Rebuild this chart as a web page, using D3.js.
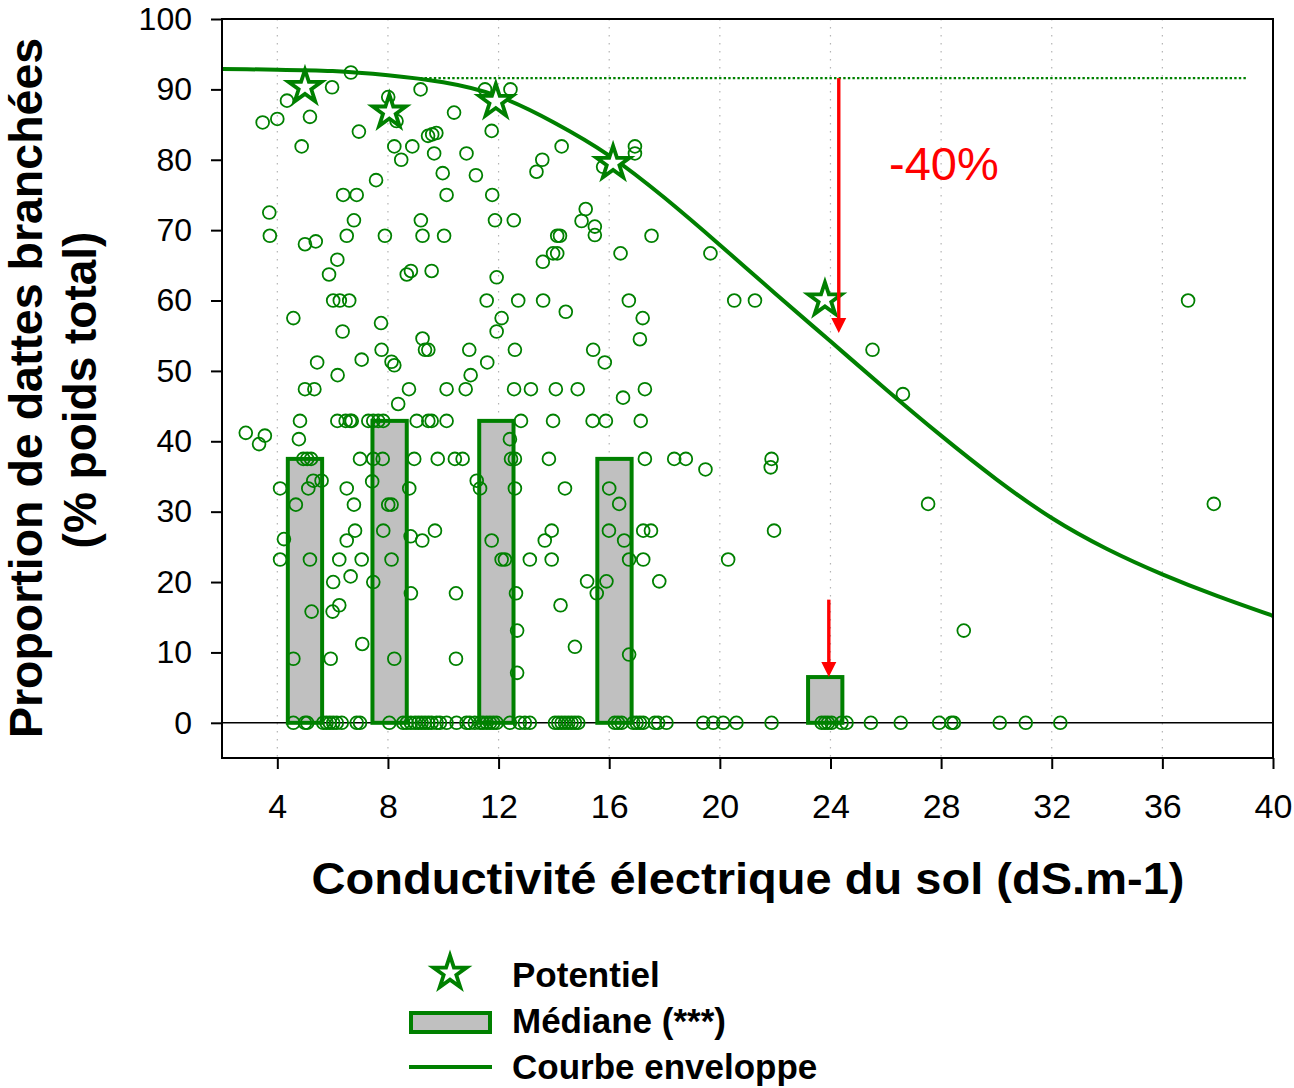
<!DOCTYPE html>
<html>
<head>
<meta charset="utf-8">
<script src="https://cdn.jsdelivr.net/npm/d3@7"></script>
<style>
  body { margin: 0; background: #fff; }
  text { font-family: "Liberation Sans", Arial, sans-serif; }
</style>
</head>
<body>
<svg id="chart" width="1294" height="1088"></svg>
<script>
// ---- Data -------------------------------------------------------------
const xTicks = [4, 8, 12, 16, 20, 24, 28, 32, 36, 40];
const yTicks = [0, 10, 20, 30, 40, 50, 60, 70, 80, 90, 100];

// Individual samples with a non-zero proportion (EC dS/m, % of total weight)
const obsX = [6.66,5.98,4.35,5.18,3.47,4.0,4.88,6.95,8.01,8.31,9.18,8.23,8.48,8.88,10.39,9.45,9.6,9.75,9.67,10.84,
  9.98,11.18,10.12,11.75,11.51,12.43,14.28,13.58,13.37,15.78,7.57,6.38,6.87,3.71,3.73,6.77,6.51,7.89,9.19,9.25,
  10.03,11.77,11.87,12.55,15.15,15.0,15.48,15.48,14.12,14.22,5.0,5.39,6.17,13.97,14.12,13.60,5.87,8.68,8.83,9.58,
  11.93,6.02,6.26,6.60,11.57,12.71,13.61,14.43,4.58,7.75,12.11,6.36,11.93,9.25,9.34,9.46,7.77,10.94,12.59,15.42,
  15.84,5.44,7.05,8.13,8.23,11.59,6.18,10.99,5.0,5.34,8.76,10.12,10.81,12.56,13.17,14.07,14.86,17.29,16.50,8.37,
  4.82,6.17,6.47,6.63,6.69,7.29,7.47,7.65,7.83,9.04,9.46,9.58,10.12,12.81,13.97,15.40,15.88,17.14,2.86,3.34,
  3.55,4.78,12.41,4.94,5.08,5.22,6.99,7.47,7.81,8.95,9.80,10.42,10.70,12.45,12.59,13.82,17.29,18.35,18.77,21.87,
  21.84,19.48,4.10,5.30,5.60,5.12,6.51,7.43,8.77,11.21,11.33,12.59,14.40,16.0,16.36,4.67,6.77,8.01,8.13,27.53,
  37.86,4.24,6.51,6.81,7.83,8.82,9.24,9.70,11.75,13.67,13.92,15.99,17.23,17.51,16.54,21.96,4.10,5.18,6.24,7.05,
  8.13,12.11,12.23,13.13,13.92,16.72,17.23,20.30,6.02,6.65,7.47,15.20,15.90,17.81,8.83,10.46,12.63,15.55,5.24,6.0,
  6.24,14.24,12.67,28.82,7.07,14.76,16.72,4.58,5.93,8.23,10.46,12.67,16.71,20.52,21.27,17.21,17.11,25.52,26.62,16.41,
  19.66,17.53,16.93,16.93,36.93];
const obsY = [92.4,90.3,88.4,86.1,85.3,85.8,81.9,84.0,88.9,85.5,90.0,81.9,80.0,81.9,86.7,83.4,83.6,83.8,80.9,80.9,
  78.1,77.8,75.0,84.1,90.0,90.0,81.9,80.0,78.3,79.0,77.1,75.0,75.0,72.5,69.2,71.4,69.2,69.2,71.4,69.2,
  69.2,75.0,71.4,71.4,73.0,71.3,70.5,69.3,69.2,69.2,68.0,68.4,65.8,66.7,66.7,65.5,63.7,63.7,64.2,64.2,
  63.3,60.0,60.0,60.0,60.0,60.0,60.0,58.4,57.5,56.8,57.5,55.6,55.6,54.6,53.0,53.0,53.0,53.0,53.0,53.0,
  51.2,51.2,51.6,51.3,50.8,51.2,49.4,49.4,47.4,47.4,47.4,47.4,47.4,47.4,47.4,47.4,47.4,47.4,46.2,45.3,
  42.9,42.9,42.9,42.9,42.9,42.9,42.9,42.9,42.9,42.9,42.9,42.9,42.9,42.9,42.9,42.9,42.9,42.9,41.2,39.6,
  40.8,40.3,40.3,37.5,37.5,37.5,37.5,37.5,37.5,37.5,37.5,37.5,37.5,37.5,37.5,37.5,37.5,37.5,37.5,37.5,
  36.3,36.0,33.3,34.4,34.4,33.3,33.3,34.3,33.3,34.4,33.3,33.3,33.3,33.3,31.1,31.0,31.0,31.0,31.0,31.1,
  31.1,26.1,25.9,27.3,27.3,26.5,25.9,27.3,25.9,25.9,27.3,27.3,27.3,27.3,25.9,27.3,23.2,23.2,23.2,23.2,
  23.2,23.2,23.2,23.2,23.2,23.2,23.2,23.2,20.0,20.8,20.0,20.1,20.1,20.1,18.4,18.4,18.4,18.4,15.8,15.8,
  16.7,16.7,13.1,13.1,11.2,10.8,9.7,9.1,9.1,9.1,9.1,7.1,60.0,60.0,60.0,57.5,54.5,53.0,46.7,66.7,
  66.7,69.2,81.9,80.9,60.0];

// Samples with no branched dates (proportion = 0)
const zeroX = [4.58,5.0,5.08,5.66,5.78,5.90,6.02,6.15,6.33,6.87,6.99,8.05,8.55,8.68,8.83,8.98,9.10,9.22,9.34,9.46,
  9.58,9.76,9.88,10.12,10.48,10.84,10.96,11.14,11.33,11.44,11.57,11.69,11.81,11.93,12.41,12.77,12.95,13.13,14.04,14.16,
  14.28,14.40,14.52,14.64,14.76,14.88,16.20,16.32,16.45,16.87,16.99,17.11,17.23,17.65,17.77,18.07,19.40,19.76,20.12,20.60,
  21.87,23.68,23.80,23.91,24.04,24.40,24.58,25.46,26.54,27.93,28.37,28.46,30.12,31.06,32.31];

// Potential (best) value per salinity class
const potentielX = [5.0, 8.05, 11.9, 16.14, 23.8];
const potentielY = [90.3, 86.8, 88.3, 79.5, 60.1];

// Median per salinity class
const medianX = [5.0, 8.06, 11.92, 16.19, 23.81];
const medianY = [37.5, 42.9, 42.9, 37.5, 6.5];

// Envelope curve
const envelopeX = [2, 4, 6, 8, 10, 12, 14, 16, 18, 20, 22, 24, 26, 28, 30, 32, 34, 36, 38, 40];
const envelopeY = [92.9, 92.8, 92.6, 92.0, 91.0, 89.0, 85.3, 80.6, 74.6, 67.9, 61.0, 54.2, 47.4, 40.8, 34.6, 29.1, 24.7, 21.1, 18.0, 15.2];

// Plateau of the envelope and the drops annotated in red
const plateauY = 91.6;
const plateauX = [9.16, 39.05];
const dropX = [24.3, 23.94];
const dropFrom = [91.6, 17.5];
const dropTo = [55.4, 6.5];
const dropLabel = "-40%";

// ---- Layout -----------------------------------------------------------
const GREEN = "#008000";
const svg = d3.select("#chart");
const x = d3.scaleLinear().domain([2, 40]).range([222, 1273]);
const y = d3.scaleLinear().domain([-5, 100]).range([758, 19]);
const barHalf = 0.62; // half width of the median bars, in dS/m

svg.append("clipPath").attr("id", "plot-clip")
  .append("rect").attr("x", x(2)).attr("y", y(100)).attr("width", x(40) - x(2)).attr("height", y(-5) - y(100));

// vertical dotted grid
svg.append("g").selectAll("line").data(xTicks.filter(d => d < 40)).join("line")
  .attr("x1", d => x(d)).attr("x2", d => x(d))
  .attr("y1", y(100)).attr("y2", y(-5))
  .attr("stroke", "#b4b4b4").attr("stroke-width", 1.2).attr("stroke-dasharray", "1.5,6.5");

// zero line
svg.append("line").attr("x1", x(2)).attr("x2", x(40)).attr("y1", y(0)).attr("y2", y(0))
  .attr("stroke", "#000").attr("stroke-width", 1.6);

// median bars
svg.append("g").selectAll("rect").data(medianX).join("rect")
  .attr("x", d => x(d - barHalf))
  .attr("width", d => x(d + barHalf) - x(d - barHalf))
  .attr("y", (d, i) => y(medianY[i]))
  .attr("height", (d, i) => y(0) - y(medianY[i]))
  .attr("fill", "#c0c0c0").attr("stroke", GREEN).attr("stroke-width", 4);

// samples
const pts = obsX.map((d, i) => [d, obsY[i]]).concat(zeroX.map(d => [d, 0]));
svg.append("g").attr("clip-path", "url(#plot-clip)")
  .selectAll("circle").data(pts).join("circle")
  .attr("cx", d => x(d[0])).attr("cy", d => y(d[1])).attr("r", 6.4)
  .attr("fill", "none").attr("stroke", GREEN).attr("stroke-width", 1.8);

// envelope curve
const line = d3.line().x(d => x(d[0])).y(d => y(d[1])).curve(d3.curveNatural);
svg.append("path").attr("clip-path", "url(#plot-clip)")
  .datum(envelopeX.map((d, i) => [d, envelopeY[i]]))
  .attr("d", line).attr("fill", "none").attr("stroke", GREEN).attr("stroke-width", 4);

// plateau
svg.append("line").attr("x1", x(plateauX[0])).attr("x2", x(plateauX[1]))
  .attr("y1", y(plateauY)).attr("y2", y(plateauY))
  .attr("stroke", GREEN).attr("stroke-width", 2.4).attr("stroke-dasharray", "2.4,2.2");

// potential stars
const star = d3.symbol().type(d3.symbolStar).size(340);
svg.append("g").selectAll("path").data(potentielX).join("path")
  .attr("transform", (d, i) => `translate(${x(d)},${y(potentielY[i])})`)
  .attr("d", star).attr("fill", "#fff").attr("stroke", GREEN).attr("stroke-width", 3.8)
  .attr("stroke-linejoin", "miter");

// red arrows
const arrows = svg.append("g");
dropX.forEach((ax, i) => {
  const px = x(ax), y0 = y(dropFrom[i]), y1 = y(dropTo[i]);
  const head = 15, hw = 7.5;
  arrows.append("line").attr("x1", px).attr("x2", px).attr("y1", y0).attr("y2", y1 - head + 1)
    .attr("stroke", "#ff0000").attr("stroke-width", 3.4);
  arrows.append("path")
    .attr("d", `M${px - hw},${y1 - head} L${px + hw},${y1 - head} L${px},${y1} Z`)
    .attr("fill", "#ff0000");
});
svg.append("text").attr("x", 889).attr("y", 180).text(dropLabel)
  .attr("fill", "#ff0000").attr("font-size", 47);

// frame
svg.append("rect").attr("x", x(2)).attr("y", y(100)).attr("width", x(40) - x(2)).attr("height", y(-5) - y(100))
  .attr("fill", "none").attr("stroke", "#000").attr("stroke-width", 2);

// axes
const yAxis = svg.append("g").attr("transform", `translate(${x(2)},0)`)
  .call(d3.axisLeft(y).tickValues(yTicks).tickSize(11).tickSizeOuter(0).tickPadding(19));
const xAxis = svg.append("g").attr("transform", `translate(0,${y(-5)})`)
  .call(d3.axisBottom(x).tickValues(xTicks).tickSize(11).tickSizeOuter(0).tickPadding(25));
[yAxis, xAxis].forEach(g => {
  g.select(".domain").remove();
  g.selectAll(".tick line").attr("stroke", "#000").attr("stroke-width", 2);
  g.selectAll(".tick text").attr("fill", "#000").attr("font-family", "Liberation Sans, Arial, sans-serif");
});
yAxis.selectAll(".tick text").attr("font-size", 32);
xAxis.selectAll(".tick text").attr("font-size", 34);

// axis titles
svg.append("text").attr("x", 748).attr("y", 894).attr("text-anchor", "middle")
  .attr("font-size", 45).attr("font-weight", "bold")
  .attr("textLength", 873).attr("lengthAdjust", "spacingAndGlyphs")
  .text("Conductivité électrique du sol (dS.m-1)");
svg.append("text").attr("transform", "translate(42,388) rotate(-90)").attr("text-anchor", "middle")
  .attr("font-size", 46.5).attr("font-weight", "bold").text("Proportion de dattes branchées");
svg.append("text").attr("transform", "translate(96,390) rotate(-90)").attr("text-anchor", "middle")
  .attr("font-size", 46).attr("font-weight", "bold").text("(% poids total)");

// legend
const lg = svg.append("g");
lg.append("path").attr("transform", "translate(450,973)").attr("d", star)
  .attr("fill", "#fff").attr("stroke", GREEN).attr("stroke-width", 3.8);
lg.append("rect").attr("x", 411).attr("y", 1013).attr("width", 79).attr("height", 19)
  .attr("fill", "#c0c0c0").attr("stroke", GREEN).attr("stroke-width", 4);
lg.append("line").attr("x1", 409).attr("x2", 492).attr("y1", 1067).attr("y2", 1067)
  .attr("stroke", GREEN).attr("stroke-width", 4);
const legendLabels = ["Potentiel", "Médiane (***)", "Courbe enveloppe"];
const legendBase = [987, 1033, 1079];
lg.selectAll("text.lab").data(legendLabels).join("text").attr("class", "lab")
  .attr("x", 512).attr("y", (d, i) => legendBase[i])
  .attr("font-size", 35).attr("font-weight", "bold").text(d => d);
</script>
</body>
</html>
